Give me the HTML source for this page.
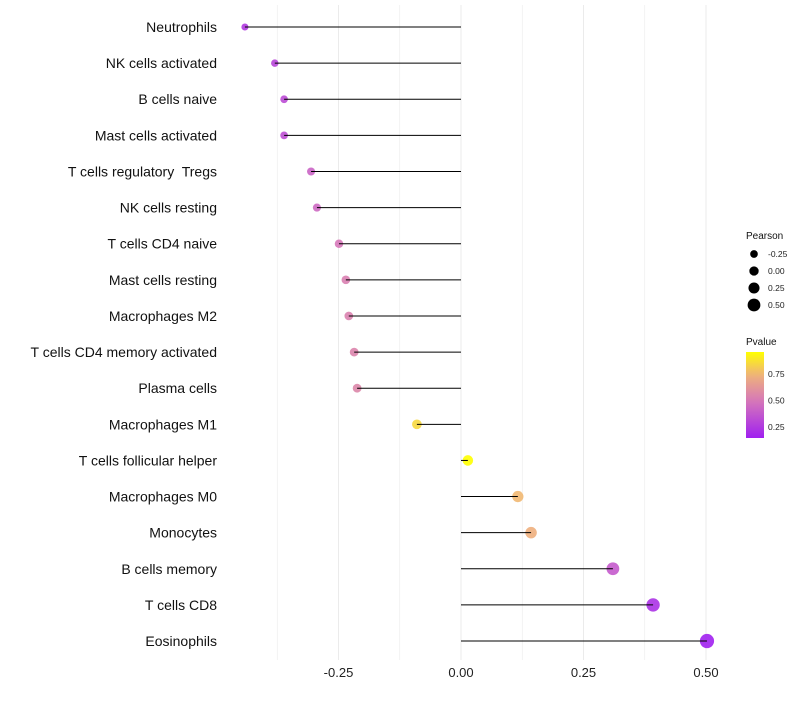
<!DOCTYPE html>
<html><head><meta charset="utf-8"><style>
body{margin:0;background:#fff;font-family:"Liberation Sans",sans-serif}
text{white-space:pre}
</style></head><body>
<svg id="c" width="800" height="700" xmlns="http://www.w3.org/2000/svg" font-family="Liberation Sans, sans-serif" xml:space="preserve"></svg>
<script>
const categories=["Neutrophils","NK cells activated","B cells naive","Mast cells activated","T cells regulatory  Tregs","NK cells resting","T cells CD4 naive","Mast cells resting","Macrophages M2","T cells CD4 memory activated","Plasma cells","Macrophages M1","T cells follicular helper","Macrophages M0","Monocytes","B cells memory","T cells CD8","Eosinophils"];
const pearson=[-0.441,-0.380,-0.361,-0.361,-0.306,-0.294,-0.249,-0.235,-0.229,-0.218,-0.212,-0.090,0.014,0.116,0.143,0.310,0.392,0.502];
const pvalue=[0.25,0.3,0.32,0.33,0.42,0.44,0.5,0.53,0.54,0.55,0.56,0.85,0.96,0.76,0.73,0.38,0.22,0.15];
const xTicks=[-0.25,0,0.25,0.5];
const xTickLabels=["-0.25","0.00","0.25","0.50"];
const sizeLegend=[-0.25,0,0.25,0.5];
const colorLegend=[0.25,0.5,0.75];

const svg=document.getElementById('c');
const NS="http://www.w3.org/2000/svg";
const xs=v=>461+v*490;
const ys=i=>27+i*36.12;
const rs=v=>Math.max(2,5.2+3.8*v);
function col(p){
  const stops=[[0.146,[160,32,240]],[0.5,[214,120,185]],[0.75,[240,180,120]],[0.96,[255,255,0]]];
  p=Math.max(0.146,Math.min(0.96,p));
  for(let k=0;k<stops.length-1;k++){const a=stops[k],b=stops[k+1];
    if(p<=b[0]){const t=(p-a[0])/(b[0]-a[0]);return 'rgb('+a[1].map((c,j)=>Math.round(c+(b[1][j]-c)*t)).join(',')+')';}}
  return 'rgb(255,255,0)';
}
function el(t,a,txt){const e=document.createElementNS(NS,t);for(const k in a)e.setAttribute(k,a[k]);if(txt!=null)e.textContent=txt;svg.appendChild(e);return e;}
for(let v=-0.375;v<=0.5;v+=0.125){
  const g=el('line',{x1:xs(v),x2:xs(v),y1:5,y2:660,stroke:'#ebebeb','stroke-width':Math.abs(v*8%2)<0.01?1:0.6});
  
  
}
xTicks.forEach((v,i)=>{
  const t=el('text',{x:xs(v),y:677,'text-anchor':'middle','font-size':13,fill:'#222'},xTickLabels[i]);
  
  
});
categories.forEach((c,i)=>{
  const t=el('text',{x:217,y:ys(i)+5,'text-anchor':'end','font-size':14,fill:'#111'},c);
  
  
  const p=el('circle',{cx:xs(pearson[i]),cy:ys(i),r:rs(pearson[i]),fill:col(pvalue[i]),'fill-opacity':0.9});
  
  
  const l=el('line',{x1:xs(0),x2:xs(pearson[i]),y1:ys(i),y2:ys(i),stroke:'#000','stroke-width':1});
  
  
});
let t=el('text',{x:746,y:239,'font-size':10,fill:'#111'},'Pearson');


sizeLegend.forEach((v,i)=>{
  const y=254+i*17;
  const c=el('circle',{cx:754,cy:y,r:rs(v)*0.9,fill:'#000'});
  
  
  const tt=el('text',{x:768,y:y+3,'font-size':8.5,fill:'#222'},v.toFixed(2));
  
  
});
t=el('text',{x:746,y:345,'font-size':10,fill:'#111'},'Pvalue');


const defs=document.createElementNS(NS,'defs');svg.appendChild(defs);
const lg=document.createElementNS(NS,'linearGradient');lg.setAttribute('id','g');lg.setAttribute('x1','0');lg.setAttribute('y1','1');lg.setAttribute('x2','0');lg.setAttribute('y2','0');defs.appendChild(lg);
for(let k=0;k<=10;k++){const s=document.createElementNS(NS,'stop');s.setAttribute('offset',k/10);s.setAttribute('stop-color',col(0.146+k/10*(0.96-0.146)));lg.appendChild(s);}
const bar=el('rect',{x:746,y:352,width:18,height:86,fill:'url(#g)'});


colorLegend.forEach(v=>{
  const y=438-(v-0.146)/(0.96-0.146)*86;
  const tt=el('text',{x:768,y:y+3,'font-size':8.5,fill:'#222'},v.toFixed(2));
  
  
});
</script>
</body></html>
